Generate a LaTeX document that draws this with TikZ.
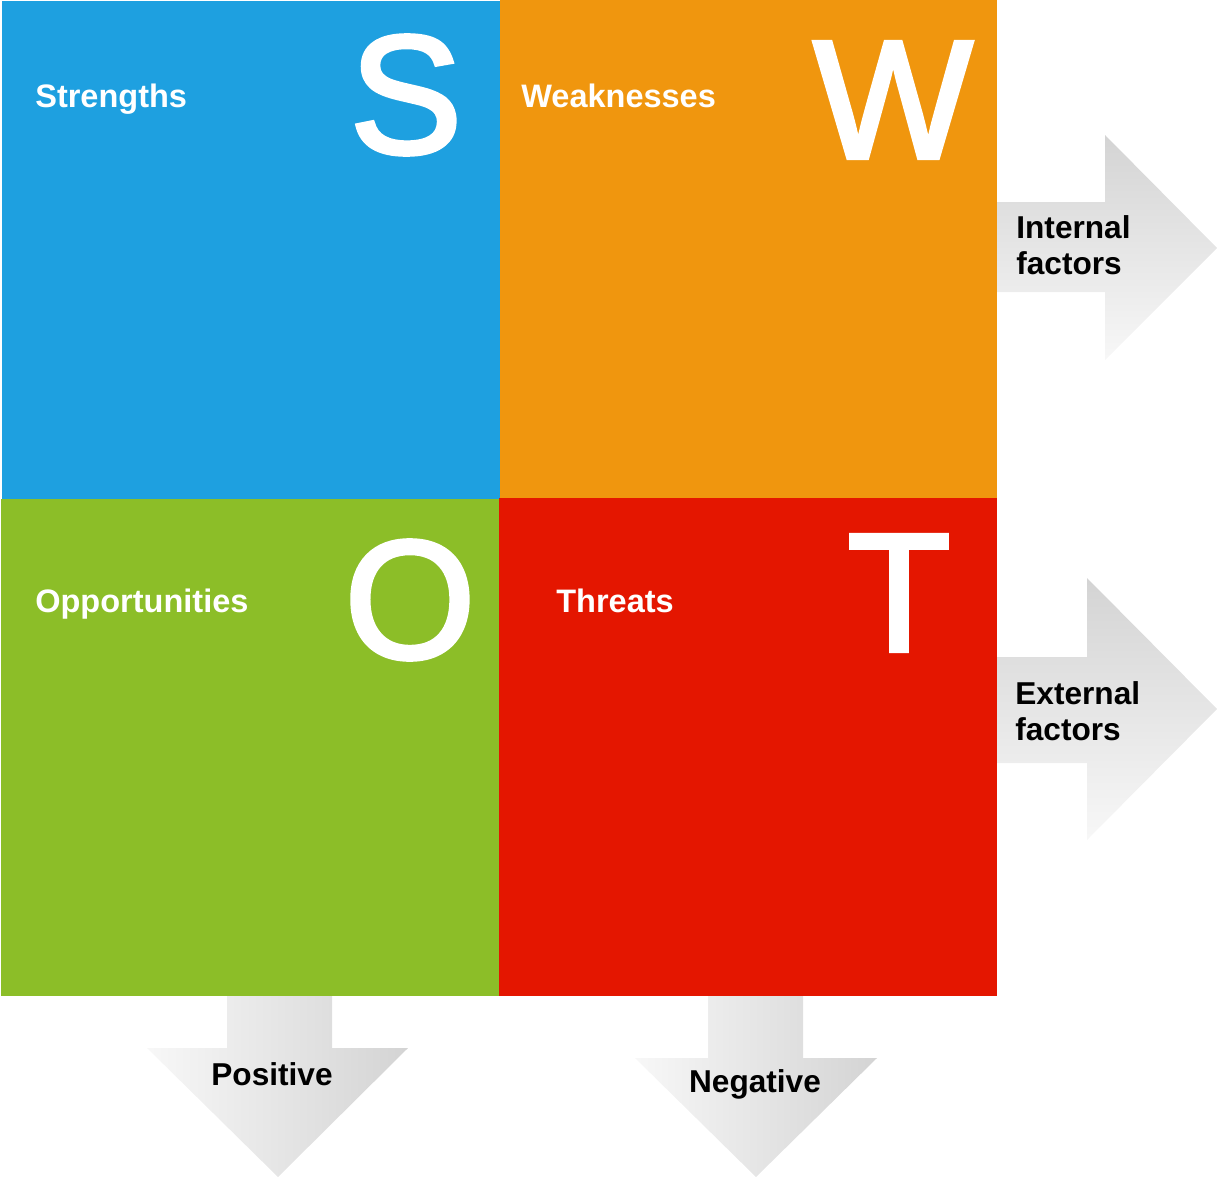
\documentclass[tikz,border=0pt]{standalone}
\usepackage{fontspec}
\setmainfont{Liberation Sans}
\newfontfamily\bigletterfont[FakeBold=2.5]{Liberation Sans}

\definecolor{swotblue}{RGB}{30,160,224}
\definecolor{swotorange}{RGB}{240,150,14}
\definecolor{swotgreen}{RGB}{140,190,40}
\definecolor{swotred}{RGB}{228,22,0}

\tikzset{
    quad/.style={rectangle, draw=none, inner sep=0, minimum width=9.96cm, minimum height=9.96cm},
    bigletter/.style={text=white, inner sep=0, font=\bigletterfont\fontsize{96}{96}\selectfont},
    quadlabel/.style={text=white, inner sep=0, anchor=base west, font=\bfseries\fontsize{18.5}{20}\selectfont},
    arrowlabel/.style={text=black, inner sep=0, align=left, font=\bfseries\fontsize{18}{20.5}\selectfont},
    rightarrow/.style={top color=black!17, bottom color=black!3, draw=none},
    downarrow/.style={left color=black!3, right color=black!17, draw=none}
}

\begin{document}
\begin{tikzpicture}[x=0.02cm, y=-0.02cm]

    \useasboundingbox (0,0) rectangle (1218,1180);

    % Arrows behind the grid
    \path[rightarrow] (990,202) -- (1105,202) -- (1105,135) -- (1217,248) -- (1105,360) -- (1105,292) -- (990,292) -- cycle;
    \path[rightarrow] (990,657) -- (1087,657) -- (1087,578) -- (1217,709) -- (1087,840) -- (1087,763) -- (990,763) -- cycle;
    \path[downarrow] (227,990) -- (227,1048) -- (147,1048) -- (278,1177) -- (408,1048) -- (332,1048) -- (332,990) -- cycle;
    \path[downarrow] (708,990) -- (708,1058) -- (635,1058) -- (756,1177) -- (877,1058) -- (803,1058) -- (803,990) -- cycle;

    % Quadrants
    \foreach \q/\col/\cx/\cy in {S/swotblue/251/250, W/swotorange/748.5/249, O/swotgreen/250/747.5, T/swotred/748/747}
        \node[quad, fill=\col] (\q) at (\cx,\cy) {};

    % Big letters
    \node[bigletter] (S-big) at (406,95) {S};
    \node[bigletter] (W-big) at (893,100) {W};
    \node[bigletter] (O-big) at (410,600) {O};
    \node[bigletter] (T-big) at (899,593) {T};

    % Quadrant labels
    \node[quadlabel] (S-lbl) at (35,107) {Strengths};
    \node[quadlabel] (W-lbl) at (521,107) {Weaknesses};
    \node[quadlabel] (O-lbl) at (35,612) {Opportunities};
    \node[quadlabel] (T-lbl) at (556,612) {Threats};

    % Arrow labels
    \node[arrowlabel, anchor=west] (internal) at (1016,245) {Internal\\factors};
    \node[arrowlabel, anchor=west] (external) at (1015,711) {External\\factors};
    \node[arrowlabel, anchor=base] (positive) at (272,1085) {Positive};
    \node[arrowlabel, anchor=base] (negative) at (755,1092) {Negative};

\end{tikzpicture}
\end{document}
